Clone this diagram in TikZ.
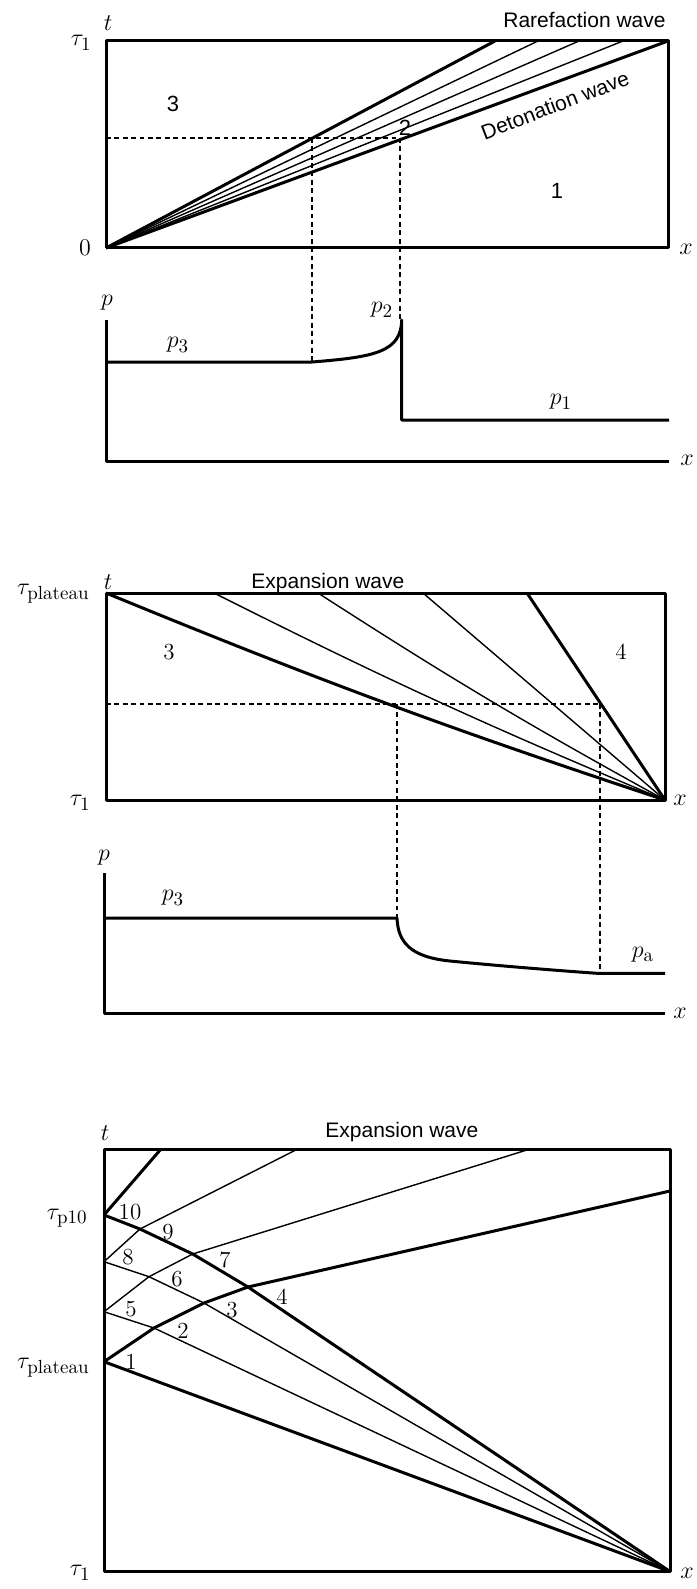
\documentclass[tikz,border=0pt]{standalone}
\usepackage{fontspec}
\setsansfont{Liberation Sans}
\newcommand\subt[1]{\mbox{\fontsize{9.5}{10}\selectfont\rmfamily #1}}
\begin{document}
\begin{tikzpicture}[x=0.5pt,y=-0.5pt,
  thickln/.style={line width=1.5pt},
  thinln/.style={line width=0.7pt},
  guide/.style={line width=0.6pt, dash pattern=on 2.4pt off 1.8pt},
  mlabel/.style={font=\fontsize{12}{14}\selectfont, inner sep=0pt},
  wlabel/.style={font=\sffamily\fontsize{10.5}{12}\selectfont, inner sep=0pt},
  rlabel/.style={font=\fontsize{11.5}{13}\selectfont, inner sep=0pt},
  slabel/.style={font=\sffamily\fontsize{11}{13}\selectfont, inner sep=0pt},
  line join=round]
\useasboundingbox (0,0) rectangle (696,1589);

% ---------------- Panel 1 ----------------
\coordinate (O1) at (106,248);
\coordinate (TR1) at (668,41);
\draw[thickln] (106,41) rectangle (668,248);
\coordinate (F1a) at (495,41);
\coordinate (F1b) at (538,41);
\coordinate (F1c) at (579,41);
\coordinate (F1d) at (623,41);
\draw[thickln] (O1) -- (F1a);
\draw[thinln] (O1) -- (F1b);
\draw[thinln] (O1) -- (F1c);
\draw[thinln] (O1) -- (F1d);
\draw[thickln] (O1) -- (TR1);
\coordinate (D1L) at (106,138);
\coordinate (D1a) at (312,138);
\coordinate (D1b) at (400,138);
\coordinate (Q1a) at (312,362);
\coordinate (Q1b) at (400,320);
\draw[guide] (D1L) -- (D1b);
\draw[guide] (D1a) -- (Q1a);
\draw[guide] (D1b) -- (Q1b);
\node[mlabel] (t1) at (108,23) {$t$};
\node[mlabel, anchor=east] (tau1a) at (92,43) {$\tau_{\subt{1}}$};
\node[mlabel] (zero) at (85,248) {$0$};
\node[mlabel] (x1) at (686,249) {$x$};
\node[wlabel, anchor=base east] (rare) at (666,28) {Rarefaction wave};
\node[wlabel, rotate=21] (deto) at (555,105) {Detonation wave};
\node[slabel] (r3) at (173,104) {3};
\node[slabel] (r1) at (557,191) {1};
\node[slabel] (r2) at (405,128) {2};

% ---------------- Pressure 1 ----------------
\draw[thickln] (106,320) -- (106,461) -- (669,461);
\draw[thickln] (106,362) -- (Q1a) .. controls (375,357) and (401,352) .. (401.7,320) -- (401.7,420) -- (669,420);
\node[mlabel] (p1ax) at (107,303) {$p$};
\node[mlabel] (p13) at (178,345) {$p_{\subt{3}}$};
\node[mlabel] (p12) at (382,310) {$p_{\subt{2}}$};
\node[mlabel] (p11) at (561,402) {$p_{\subt{1}}$};
\node[mlabel] (x1p) at (687,460) {$x$};

% ---------------- Panel 2 ----------------
\coordinate (O2) at (665,800);
\draw[thickln] (106,593) rectangle (665,800);
\coordinate (F2a) at (106,593);
\coordinate (F2b) at (214,593);
\coordinate (F2c) at (318,593);
\coordinate (F2d) at (423,593);
\coordinate (F2e) at (527,593);
\draw[thickln] (F2a) to[bend right=2] (O2);
\draw[thinln] (F2b) to[bend right=2] (O2);
\draw[thinln] (F2c) to[bend right=2] (O2);
\draw[thinln] (F2d) -- (O2);
\draw[thickln] (F2e) -- (O2);
\coordinate (D2L) at (106,704);
\coordinate (D2a) at (397,704);
\coordinate (D2b) at (600,704);
\coordinate (Q2a) at (397,918);
\coordinate (Q2b) at (600,973);
\draw[guide] (D2L) -- (D2b);
\draw[guide] (D2a) -- (Q2a);
\draw[guide] (D2b) -- (Q2b);
\node[mlabel] (t2) at (108,582) {$t$};
\node[mlabel, anchor=east] (taupl2) at (90,594) {$\tau_{\subt{plateau}}$};
\node[mlabel, anchor=east] (tau1b) at (91,803) {$\tau_{\subt{1}}$};
\node[mlabel] (x2) at (680,800) {$x$};
\node[wlabel, anchor=base west] (exp2) at (251,588) {Expansion wave};
\node[rlabel] (s3) at (169,652) {3};
\node[rlabel] (s4) at (621,652) {4};

% ---------------- Pressure 2 ----------------
\draw[thickln] (104,873) -- (104,1013) -- (665,1013);
\draw[thickln] (104,918) -- (Q2a) .. controls (398,942) and (410,957) .. (450,961)
   .. controls (490,965) and (550,970) .. (597,973.3) -- (665,973.3);
\node[mlabel] (p2ax) at (104,858) {$p$};
\node[mlabel] (p23) at (173,898) {$p_{\subt{3}}$};
\node[mlabel] (p2a) at (643,955) {$p_{\subt{a}}$};
\node[mlabel] (x2p) at (680,1013) {$x$};

% ---------------- Panel 3 ----------------
\draw[thickln] (104,1149) rectangle (670,1571.5);
\coordinate (A10) at (104,1215);
\coordinate (A8) at (104,1261.7);
\coordinate (A5) at (104,1311.7);
\coordinate (A1) at (104,1361.7);
\coordinate (C3) at (670,1571.5);
\coordinate (T10) at (161,1149);
\coordinate (T8) at (297.7,1149);
\coordinate (T5) at (530,1149);
\coordinate (R1) at (670,1191);
\coordinate (P9) at (140,1229);
\coordinate (P6) at (149,1276.7);
\coordinate (P7) at (192.7,1254);
\coordinate (P2) at (154,1328);
\coordinate (P3) at (204,1303);
\coordinate (P4) at (248,1287);
\draw[thickln] (A10) -- (T10);
\draw[thickln] (A10) -- (P9) -- (P7) -- (P4) -- (C3);
\draw[thinln] (A8) -- (P9) -- (T8);
\draw[thinln] (A8) -- (P6) -- (P3) -- (C3);
\draw[thinln] (A5) -- (P6) -- (P7) -- (T5);
\draw[thinln] (A5) -- (P2) -- (C3);
\draw[thickln] (A1) -- (P2) -- (P3) -- (P4) -- (R1);
\draw[thickln] (A1) -- (C3);
\node[mlabel] (t3) at (105,1133) {$t$};
\node[wlabel, anchor=base west] (exp3) at (325,1137) {Expansion wave};
\node[mlabel, anchor=east] (taup10) at (88,1218) {$\tau_{\subt{p10}}$};
\node[mlabel, anchor=east] (taupl3) at (90,1368) {$\tau_{\subt{plateau}}$};
\node[mlabel, anchor=east] (tau1c) at (91,1573) {$\tau_{\subt{1}}$};
\node[mlabel] (x3) at (687,1573) {$x$};
\node[rlabel] (n10) at (130,1212) {10};
\node[rlabel] (n9) at (168,1232) {9};
\node[rlabel] (n8) at (128,1257) {8};
\node[rlabel] (n7) at (225,1260) {7};
\node[rlabel] (n6) at (177,1279) {6};
\node[rlabel] (n4) at (282,1297) {4};
\node[rlabel] (n5) at (131,1309) {5};
\node[rlabel] (n3) at (232,1310) {3};
\node[rlabel] (n2) at (183,1331) {2};
\node[rlabel] (n1) at (131,1362) {1};
\end{tikzpicture}
\end{document}
